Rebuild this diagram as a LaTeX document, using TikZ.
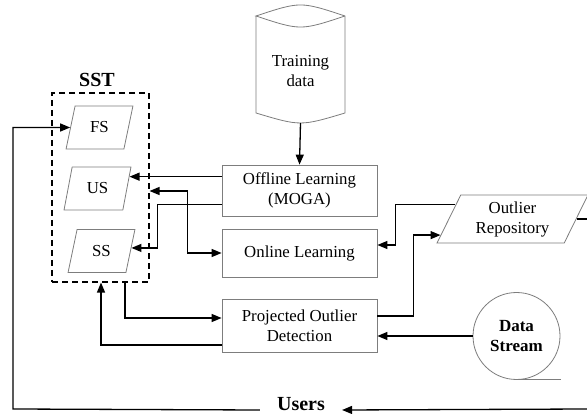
\documentclass[tikz,border=0pt]{standalone}
\usepackage{fontspec}
\setmainfont{Liberation Serif}
\usetikzlibrary{arrows.meta,shapes.geometric,calc}
\definecolor{boxgray}{RGB}{125,125,125}
\begin{document}
\begin{tikzpicture}[x=1pt,y=-1pt,
  txt/.style={font=\fontsize{16.8}{20}\selectfont, align=center},
  boldtxt/.style={font=\fontsize{20}{22}\selectfont\bfseries},
  outline/.style={draw=boxgray, line width=0.8pt},
  procbox/.style={txt, outline, minimum width=155pt, inner sep=0pt},
  iobox/.style={txt, outline, trapezium, trapezium stretches=true,
    trapezium left angle=73, trapezium right angle=107, inner sep=0pt,
    minimum width=67pt, minimum height=43pt},
  conn/.style={line width=1.3pt, draw=black},
  arr/.style={conn, -{Triangle[length=10pt,width=8pt]}},
  arrboth/.style={conn, {Triangle[length=10pt,width=8pt]}-{Triangle[length=10pt,width=8pt]}}
]
\useasboundingbox (0,0) rectangle (587,414);

% training data store (cylinder)
\draw[outline] (256,16) -- (256,113) .. controls (300.5,126.3) .. (345,113) -- (345,16)
  .. controls (300.5,1.3) .. (256,16) .. controls (300.5,30.7) .. (345,16);
\node[txt] (train) at (300.5,71) {Training\\data};
\coordinate (trainbot) at (300.5,123);

% processing blocks
\node[procbox, minimum height=51pt] (off) at (299.5,190.5) {Offline Learning\\(MOGA)};
\node[procbox, minimum height=48pt] (onl) at (299.5,253) {Online Learning};
\node[procbox, minimum height=53pt] (proj) at (299.5,325.5) {Projected Outlier\\Detection};

% SST group
\node[draw, dash pattern=on 6pt off 4pt, line width=1.1pt, minimum width=97pt,
  minimum height=189pt, inner sep=0pt] (sst) at (100.5,187.5) {};
\node[boldtxt] (sstlbl) at (97,80) {SST};
\node[iobox] (fs) at (99.5,127.5) {FS};
\node[iobox] (us) at (97.5,188.5) {US};
\node[iobox] (ss) at (101.5,251) {SS};

% outlier repository
\node[iobox, minimum width=151pt, minimum height=48pt,
  trapezium left angle=64.4, trapezium right angle=115.6] (orep) at (512.5,219) {Outlier\\Repository};

% data stream (sequential store)
\node[circle, outline, minimum size=87pt, inner sep=0pt, align=center,
  font=\fontsize{17}{19.5}\selectfont\bfseries] (ds) at (516.5,336) {Data\\Stream};
\draw[outline] (ds.south) -- ++(44,0);

% users
\node[boldtxt, inner xsep=17pt, anchor=base] (users) at (301,410) {Users};

% helper points on slanted borders
\coordinate (usin) at ($(us.top right corner)!0.23!(us.bottom right corner)$);
\coordinate (ssin) at ($(ss.top right corner)!0.43!(ss.bottom right corner)$);
\coordinate (orout) at ($(orep.top left corner)!0.21!(orep.bottom left corner)$);
\coordinate (orin) at ($(orep.top left corner)!0.83!(orep.bottom left corner)$);
\coordinate (orright) at ($(orep.top right corner)!0.5!(orep.bottom right corner)$);
\coordinate (ucorner) at (13,409);
\coordinate (uright) at (587,409);
\coordinate (edgeright) at (587,219);

% connectors
\draw[arr] (trainbot) -- (off.north);
\draw[arr] (off.west |- usin) -- (usin);
\draw[arr] ([yshift=-14pt]off.west) -- ++(-64,0) |- (ssin);
\draw[arrboth] (sst.east |- 0,191) -- ++(38,0) |- (onl.west);
\draw[arr] (sst.south -| 125,0) |- ([yshift=7.5pt]proj.west);
\draw[arr] ([yshift=-19.5pt]proj.west) -| (sst.south -| 101,0);
\draw[arr] (orout) -- ++(-60,0) |- ([yshift=8pt]onl.east);
\draw[arr] ([yshift=9.5pt]proj.east) -- ++(36,0) |- (orin);
\draw[arr] (ds.west) -- (proj.east |- ds.west);
\draw[conn] (orright) -- (edgeright);
\draw[arr] (users.base west) -- (ucorner) |- (fs.west);
\draw[arr] (uright) -- (users.base east);
\end{tikzpicture}
\end{document}
